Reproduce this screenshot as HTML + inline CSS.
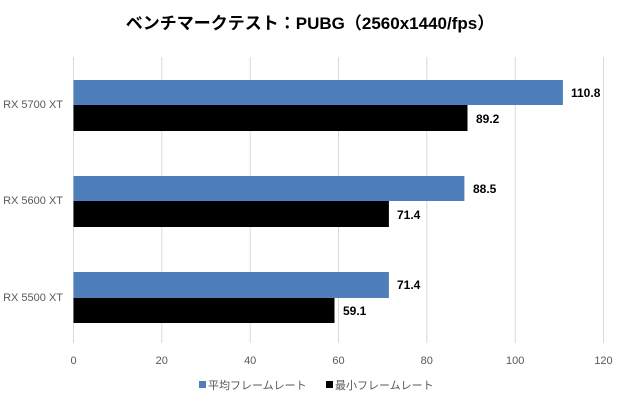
<!DOCTYPE html>
<html><head><meta charset="utf-8"><style>
body{margin:0;background:#fff;}
svg text{font-family:"Liberation Sans","Noto Sans CJK JP",sans-serif;}
</style></head><body>
<svg width="620" height="405" xmlns="http://www.w3.org/2000/svg">
<rect width="620" height="405" fill="#fff"/>
<text x="310" y="29" text-anchor="middle" font-size="17" font-weight="bold" fill="#000">ベンチマークテスト：PUBG（2560x1440/fps）</text>
<g stroke="#d9d9d9" stroke-width="1">
<line x1="73.5" y1="57" x2="73.5" y2="343"/>
<line x1="161.8" y1="57" x2="161.8" y2="343"/>
<line x1="250.2" y1="57" x2="250.2" y2="343"/>
<line x1="338.5" y1="57" x2="338.5" y2="343"/>
<line x1="426.8" y1="57" x2="426.8" y2="343"/>
<line x1="515.2" y1="57" x2="515.2" y2="343"/>
<line x1="603.5" y1="57" x2="603.5" y2="343"/>
</g>
<g fill="#4f7fba">
<rect x="73.5" y="80" width="489.4" height="25"/>
<rect x="73.5" y="176" width="390.9" height="25"/>
<rect x="73.5" y="272" width="315.4" height="26"/>
</g>
<g fill="#000">
<rect x="73.5" y="105" width="394" height="26"/>
<rect x="73.5" y="201" width="315.4" height="26"/>
<rect x="73.5" y="298" width="261" height="25"/>
</g>
<g font-size="12" font-weight="bold" fill="#000">
<text x="571" y="97">110.8</text>
<text x="476" y="123">89.2</text>
<text x="473" y="193">88.5</text>
<text x="397" y="219">71.4</text>
<text x="397" y="289">71.4</text>
<text x="343" y="315">59.1</text>
</g>
<g font-size="11" fill="#595959" text-anchor="end">
<text x="63" y="108">RX 5700 XT</text>
<text x="63" y="204">RX 5600 XT</text>
<text x="63" y="301">RX 5500 XT</text>
</g>
<g font-size="11" fill="#595959" text-anchor="middle">
<text x="73.5" y="364">0</text>
<text x="161.8" y="364">20</text>
<text x="250.2" y="364">40</text>
<text x="338.5" y="364">60</text>
<text x="426.8" y="364">80</text>
<text x="515.2" y="364">100</text>
<text x="603.5" y="364">120</text>
</g>
<rect x="199" y="381" width="7" height="7" fill="#4f7fba"/>
<text x="208" y="389" font-size="11" fill="#595959">平均フレームレート</text>
<rect x="326" y="381" width="7" height="7" fill="#000"/>
<text x="335" y="389" font-size="11" fill="#595959">最小フレームレート</text>
</svg>
</body></html>
